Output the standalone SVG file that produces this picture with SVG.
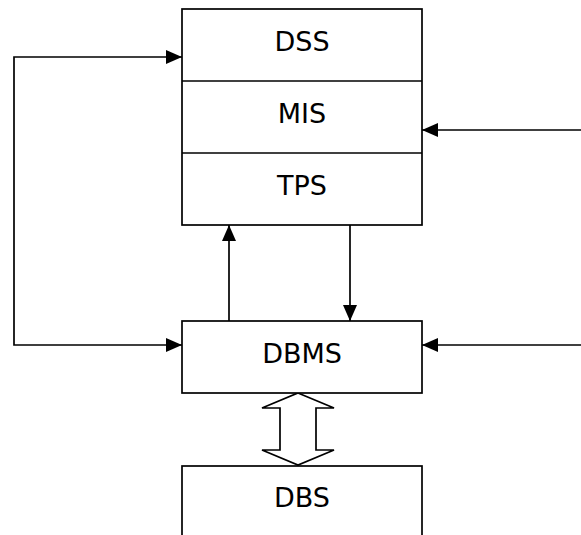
<svg xmlns="http://www.w3.org/2000/svg" width="581" height="535" viewBox="0 0 581 535">
<style>
.box{fill:#fff;stroke:#000;stroke-width:1.7}
.ln{fill:none;stroke:#000;stroke-width:1.7}
.t{font-family:"DejaVu Sans",Verdana,sans-serif;font-size:27px;fill:#000;text-anchor:middle}
</style>
<defs>
<marker id="ah" markerUnits="userSpaceOnUse" markerWidth="16" markerHeight="14" viewBox="0 0 16 14" refX="16" refY="7" orient="auto-start-reverse">
<path d="M0,0 L16,7 L0,14 Z" fill="#000"/>
</marker>
</defs>
<rect width="581" height="535" fill="#fff"/>
<g id="connectors">
<polyline class="ln" points="182,57 14,57 14,345 182,345" marker-start="url(#ah)" marker-end="url(#ah)"/>
<line class="ln" x1="581" y1="130" x2="422" y2="130" marker-end="url(#ah)"/>
<line class="ln" x1="581" y1="345" x2="422" y2="345" marker-end="url(#ah)"/>
<line class="ln" x1="229" y1="321" x2="229" y2="225" marker-end="url(#ah)"/>
<line class="ln" x1="350" y1="225" x2="350" y2="321" marker-end="url(#ah)"/>
<path class="box" d="M298,393 L334,408 L316,408 L316,450 L334,450 L298,465 L262,450 L280,450 L280,408 L262,408 Z"/>
</g>
<g id="stack">
<rect class="box" x="182" y="9" width="240" height="216"/>
<line class="ln" x1="182" y1="81" x2="422" y2="81"/>
<line class="ln" x1="182" y1="153" x2="422" y2="153"/>
</g>
<g id="dss"><text class="t" x="302" y="51">DSS</text></g>
<g id="mis"><text class="t" x="302" y="123">MIS</text></g>
<g id="tps"><text class="t" x="302" y="195">TPS</text></g>
<g id="dbms">
<rect class="box" x="182" y="321" width="240" height="72"/>
<text class="t" x="302" y="363">DBMS</text>
</g>
<g id="dbs">
<rect class="box" x="182" y="466" width="240" height="80"/>
<text class="t" x="302" y="507">DBS</text>
</g>
</svg>
